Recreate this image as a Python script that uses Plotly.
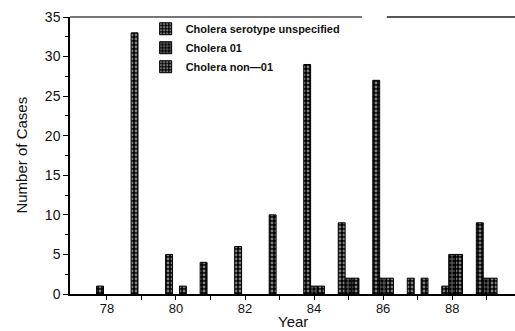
import plotly.graph_objects as go

years = [78, 79, 80, 81, 82, 83, 84, 85, 86, 87, 88, 89]
unspecified = [1, 33, 5, 4, 6, 10, 29, 9, 27, 2, 1, 9]
o1 = [0, 0, 0, 0, 0, 0, 1, 2, 2, 0, 5, 2]
non_o1 = [0, 0, 1, 0, 0, 0, 1, 2, 2, 2, 5, 2]
tick_labels = ["78", "", "80", "", "82", "", "84", "", "86", "", "88", ""]
series_names = ["Cholera serotype unspecified", "Cholera 01", "Cholera non\u201401"]

FONT = "Liberation Sans, Arial, sans-serif"

fig = go.Figure()
patterns = [
    dict(shape=".", bgcolor="black", fgcolor="white", size=4, solidity=0.4, fillmode="overlay"),
    dict(shape="+", bgcolor="black", fgcolor="white", size=4, solidity=0.35, fillmode="overlay"),
    dict(shape=".", bgcolor="black", fgcolor="white", size=4, solidity=0.4, fillmode="overlay"),
]
for name, vals, pat in zip(series_names, [unspecified, o1, non_o1], patterns):
    fig.add_trace(go.Bar(
        x=years, y=[v if v else None for v in vals], name=name,
        marker=dict(color="black", line=dict(color="black", width=1), pattern=pat),
    ))

fig.update_layout(
    width=515, height=331,
    margin=dict(l=70, r=0, t=17, b=37),
    paper_bgcolor="white", plot_bgcolor="white",
    barmode="group", bargap=0.4, bargroupgap=0,
    font=dict(family=FONT, color="#111", size=14),
    showlegend=True,
    legend=dict(x=0.17, y=1.01, xanchor="left", yanchor="top",
                bgcolor="rgba(0,0,0,0)", font=dict(size=11, family=FONT, weight="bold"),
                tracegroupgap=0, itemwidth=30),
    xaxis=dict(range=[76.93, 89.82], tickvals=years, ticktext=tick_labels,
               ticks="outside", ticklen=4, tickwidth=1, tickcolor="black",
               showline=True, linecolor="black", linewidth=1.5, showgrid=False,
               zeroline=False, tickfont=dict(size=13), ticklabelstandoff=-2),
    yaxis=dict(range=[0, 35], tickvals=[0, 5, 10, 15, 20, 25, 30, 35],
               ticks="outside", ticklen=5, tickwidth=1, tickcolor="black",
               minor=dict(dtick=2.5, tick0=0, ticks="outside", ticklen=3, tickcolor="black"),
               showline=True, linecolor="black", linewidth=1.5, showgrid=False,
               zeroline=False, tickfont=dict(size=14)),
    annotations=[
        dict(text="Number of Cases", xref="paper", yref="paper", x=-0.110, y=0.5,
             textangle=-90, showarrow=False, font=dict(size=15, family=FONT),
             xanchor="center", yanchor="middle"),
        dict(text="Year", xref="paper", yref="paper", x=0.5, y=-0.101,
             showarrow=False, font=dict(size=15, family=FONT),
             xanchor="center", yanchor="middle"),
    ],
    shapes=[
        dict(type="line", xref="paper", yref="paper", x0=0, x1=0.656, y0=1, y1=1,
             line=dict(color="#777", width=2)),
        dict(type="line", xref="paper", yref="paper", x0=0.712, x1=1, y0=1, y1=1,
             line=dict(color="#555", width=2)),
    ],
)

fig.write_html("out.html")
